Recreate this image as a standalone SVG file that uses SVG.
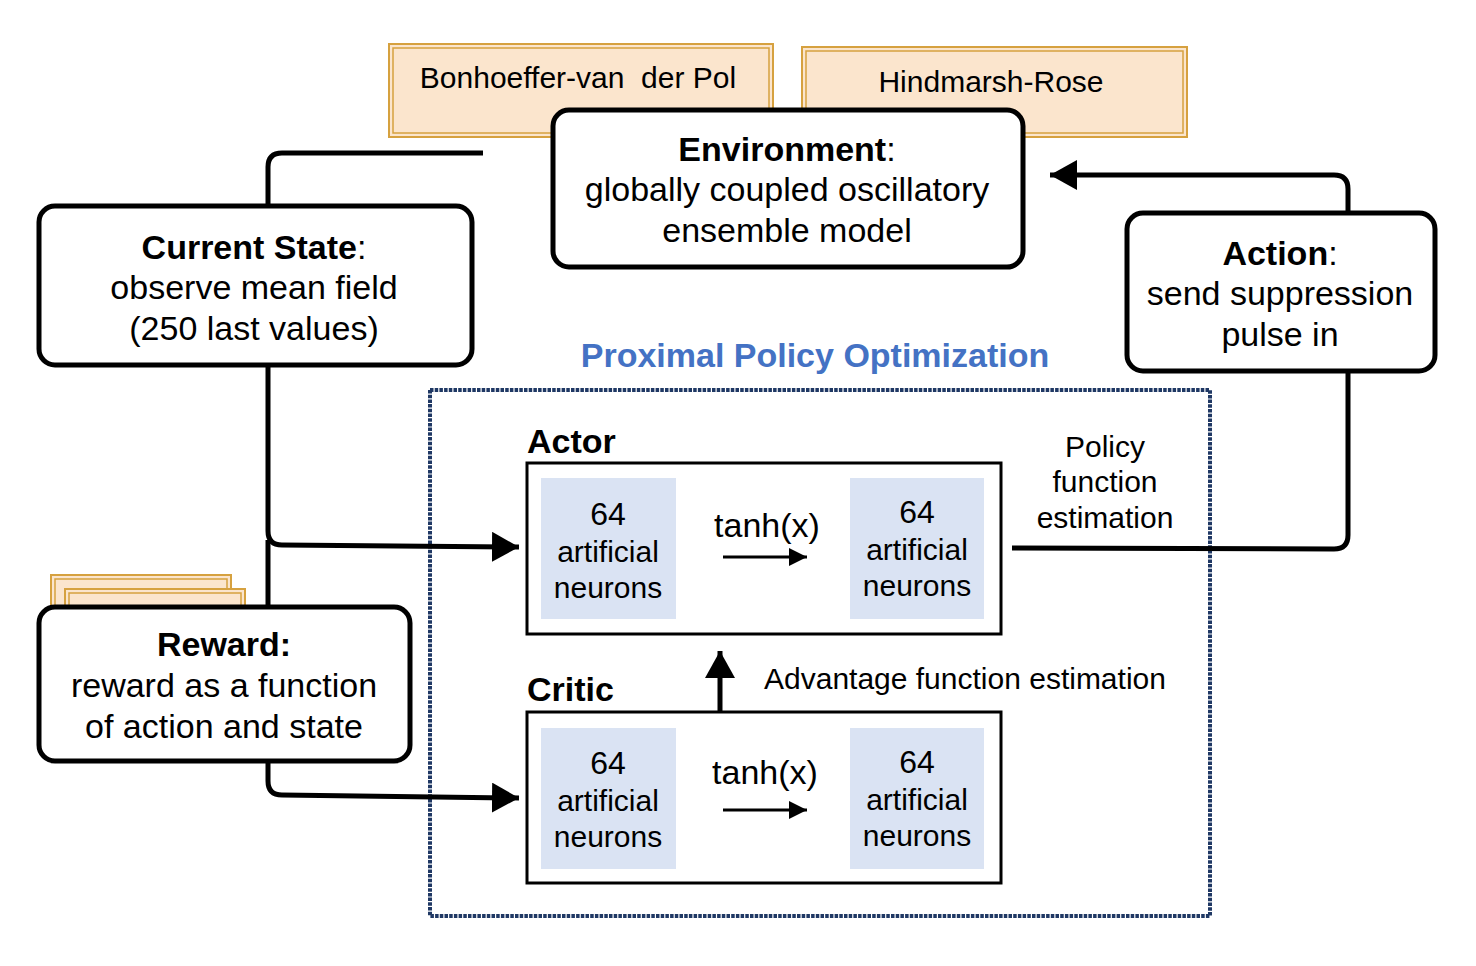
<svg xmlns="http://www.w3.org/2000/svg" width="1476" height="966" viewBox="0 0 1476 966">
<defs>
<style>
text{font-family:"Liberation Sans",Arial,sans-serif;fill:#000}
.t34{font-size:34px}
.t30{font-size:30px}
.t32{font-size:32px}
.b{font-weight:bold}
.mid{text-anchor:middle}
.node{fill:#fff;stroke:#000;stroke-width:5}
.model{fill:#FBE5CD;stroke:#D6A13F;stroke-width:2}
.modelin{fill:none;stroke:#D6A13F;stroke-width:1.5}
.net{fill:#fff;stroke:#000;stroke-width:3}
.neur{fill:#DAE3F3}
.conn{fill:none;stroke:#000;stroke-width:5}
.thin{fill:none;stroke:#000;stroke-width:3}
</style>
<marker id="ah" markerWidth="6" markerHeight="6" refX="5.4" refY="3" orient="auto" markerUnits="strokeWidth"><path d="M0,0 L5.4,3 L0,6 Z" fill="#000"/></marker>
<marker id="ahs" markerWidth="6" markerHeight="6" refX="6" refY="3" orient="auto" markerUnits="strokeWidth"><path d="M0,0 L6,3 L0,6 Z" fill="#000"/></marker>
</defs>
<rect width="1476" height="966" fill="#fff"/>

<g id="model-bvdp">
<rect class="model" x="389" y="44" width="384" height="93"/>
<rect class="modelin" x="393" y="48" width="376" height="85"/>
<text class="t30 mid" x="578" y="88">Bonhoeffer-van&#160; der Pol</text>
</g>
<g id="model-hr">
<rect class="model" x="802" y="47" width="385" height="90"/>
<rect class="modelin" x="806" y="51" width="377" height="82"/>
<text class="t30 mid" x="991" y="92">Hindmarsh-Rose</text>
</g>
<g id="reward-stack">
<rect class="model" x="51" y="575" width="180" height="60"/>
<rect class="modelin" x="55" y="579" width="172" height="52"/>
<rect class="model" x="65" y="589" width="180" height="50"/>
<rect class="modelin" x="69" y="593" width="172" height="42"/>
</g>

<g id="ppo">
<text class="t34 b mid" x="815" y="367" style="fill:#4472C4">Proximal Policy Optimization</text>
<rect x="430" y="390" width="780" height="526" fill="none" stroke="#1F3864" stroke-width="4" stroke-dasharray="3.5 1.2"/>
</g>

<g id="connectors">
<path class="conn" d="M483,153 H282 Q268,153 268,167 V206"/>
<path class="conn" d="M268,365 V531 Q268,545 282,545 L519,547" marker-end="url(#ah)"/>
<path class="conn" d="M268,540 V607"/>
<path class="conn" d="M268,761 V781 Q268,795 282,795 L519,798" marker-end="url(#ah)"/>
<path class="conn" d="M1012,548 L1334,549 Q1348,549 1348,535 V372"/>
<path class="conn" d="M1348,213 V189 Q1348,175 1334,175 H1050" marker-end="url(#ah)"/>
<path class="conn" d="M720,712 V651" marker-end="url(#ah)"/>
</g>

<g id="environment">
<rect class="node" x="553" y="110" width="470" height="157" rx="16"/>
<text class="t34 mid" x="787" y="161"><tspan class="b">Environment</tspan>:</text>
<text class="t34 mid" x="787" y="201">globally coupled oscillatory</text>
<text class="t34 mid" x="787" y="242">ensemble model</text>
</g>

<g id="current-state">
<rect class="node" x="39" y="206" width="433" height="159" rx="16"/>
<text class="t34 mid" x="254" y="259"><tspan class="b">Current State</tspan>:</text>
<text class="t34 mid" x="254" y="299">observe mean field</text>
<text class="t34 mid" x="254" y="340">(250 last values)</text>
</g>

<g id="action">
<rect class="node" x="1127" y="213" width="308" height="158" rx="16"/>
<text class="t34 mid" x="1280" y="265"><tspan class="b">Action</tspan>:</text>
<text class="t34 mid" x="1280" y="305">send suppression</text>
<text class="t34 mid" x="1280" y="346">pulse in</text>
</g>

<g id="reward">
<rect class="node" x="39" y="607" width="371" height="154" rx="16"/>
<text class="t34 mid b" x="224" y="656">Reward:</text>
<text class="t34 mid" x="224" y="697">reward as a function</text>
<text class="t34 mid" x="224" y="738">of action and state</text>
</g>

<g id="actor">
<text class="t34 b" x="527" y="453">Actor</text>
<rect class="net" x="527" y="463" width="474" height="171"/>
<rect class="neur" x="541" y="478" width="135" height="141"/>
<rect class="neur" x="850" y="478" width="134" height="141"/>
<text class="t32 mid" x="608" y="525">64</text>
<text class="t30 mid" x="608" y="562">artificial</text>
<text class="t30 mid" x="608" y="598">neurons</text>
<text class="t32 mid" x="917" y="523">64</text>
<text class="t30 mid" x="917" y="560">artificial</text>
<text class="t30 mid" x="917" y="596">neurons</text>
<text class="t34 mid" x="767" y="537">tanh(x)</text>
<path class="thin" d="M723,557 H807" marker-end="url(#ahs)"/>
</g>

<g id="critic">
<text class="t34 b" x="527" y="701">Critic</text>
<rect class="net" x="527" y="712" width="474" height="171"/>
<rect class="neur" x="541" y="728" width="135" height="141"/>
<rect class="neur" x="850" y="728" width="134" height="141"/>
<text class="t32 mid" x="608" y="774">64</text>
<text class="t30 mid" x="608" y="811">artificial</text>
<text class="t30 mid" x="608" y="847">neurons</text>
<text class="t32 mid" x="917" y="773">64</text>
<text class="t30 mid" x="917" y="810">artificial</text>
<text class="t30 mid" x="917" y="846">neurons</text>
<text class="t34 mid" x="765" y="784">tanh(x)</text>
<path class="thin" d="M723,810 H807" marker-end="url(#ahs)"/>
</g>

<g id="labels">
<text class="t30 mid" x="1105" y="457">Policy</text>
<text class="t30 mid" x="1105" y="492">function</text>
<text class="t30 mid" x="1105" y="528">estimation</text>
<text class="t30" x="764" y="689">Advantage function estimation</text>
</g>
</svg>
